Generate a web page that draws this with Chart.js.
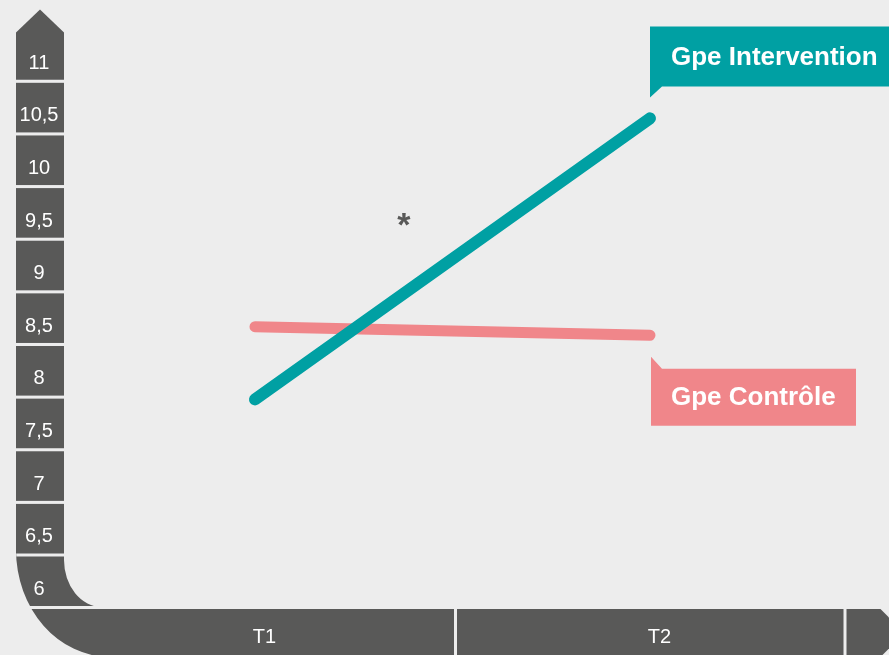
<!DOCTYPE html>
<html>
<head>
<meta charset="utf-8">
<script src="https://cdn.jsdelivr.net/npm/chart.js@4/dist/chart.umd.min.js"></script>
<style>
  html, body { margin: 0; padding: 0; background: #ededed; }
  #wrap { width: 889px; height: 655px; }
</style>
</head>
<body>
<div id="wrap"><canvas id="c" width="889" height="655"></canvas></div>
<script>
// ---- data ----
const categories = ['T1', 'T2'];
const seriesNames = ['Gpe Intervention', 'Gpe Contrôle'];
const intervention = [7.8, 10.47];
const controle = [8.49, 8.41];
const yTicks = [6, 6.5, 7, 7.5, 8, 8.5, 9, 9.5, 10, 10.5, 11];
const yTickLabels = ['6', '6,5', '7', '7,5', '8', '8,5', '9', '9,5', '10', '10,5', '11'];
const significance = '*';

// ---- styles ----
const BG = '#ededed';
const DARK = '#595958';
const TEAL = '#00a0a3';
const PINK = '#f0868a';
const FONT = '"Liberation Sans", Arial, sans-serif';

const axisPlugin = {
  id: 'axisDeco',
  beforeDraw(chart) {
    const ctx = chart.ctx;
    ctx.save();
    ctx.fillStyle = BG;
    ctx.fillRect(0, 0, chart.width, chart.height);
    ctx.restore();
  },
  beforeDatasetsDraw(chart) {
    const ctx = chart.ctx;
    const ys = chart.scales.y, xs = chart.scales.x, area = chart.chartArea;
    ctx.save();
    ctx.fillStyle = DARK;
    const L = 16, R = 64;
    // y cells
    yTicks.forEach((v, i) => {
      const cy = ys.getPixelForValue(v);
      if (i === 0) {
        const top = cy - 32.4;
        ctx.beginPath();
        ctx.moveTo(L, top);
        ctx.lineTo(R, top);
        ctx.lineTo(R, 560);
        ctx.ellipse(102, 560, 38, 47, 0, Math.PI, Math.PI / 2, true);
        ctx.lineTo(120, 607);
        ctx.lineTo(120, 657);
        ctx.lineTo(110, 657);
        ctx.ellipse(110, 550, 94, 107, 0, Math.PI / 2, Math.PI, false);
        ctx.closePath();
        ctx.fill();
      } else if (i === yTicks.length - 1) {
        const top = cy - 30, bot = cy + 17.2;
        ctx.beginPath();
        ctx.moveTo(L, bot);
        ctx.lineTo(L, top);
        ctx.lineTo((L + R) / 2, top - 23);
        ctx.lineTo(R, top);
        ctx.lineTo(R, bot);
        ctx.closePath();
        ctx.fill();
      } else {
        ctx.fillRect(L, cy - 32.4, R - L, 49.6);
      }
    });
    // x bar
    const top = 609, bot = 657;
    const p0 = xs.getPixelForValue(0), p1 = xs.getPixelForValue(1);
    const mid = (p0 + p1) / 2 + 3;
    const end = area.right - 4;
    ctx.fillRect(110, top, mid - 1.5 - 110, bot - top);
    ctx.fillRect(mid + 1.5, top, end - mid - 1.5, bot - top);
    const s = end + 3;
    ctx.beginPath();
    ctx.moveTo(s, top);
    ctx.lineTo(s + 34, top);
    ctx.lineTo(s + 58, (top + bot) / 2);
    ctx.lineTo(s + 34, bot);
    ctx.lineTo(s, bot);
    ctx.closePath();
    ctx.fill();
    // gap between "6" cell and x bar
    ctx.fillStyle = BG;
    ctx.fillRect(0, 606, 130, 3);

    // labels
    ctx.fillStyle = '#ffffff';
    ctx.font = '20px ' + FONT;
    ctx.textAlign = 'center';
    ctx.textBaseline = 'middle';
    yTicks.forEach((v, i) => {
      ctx.fillText(yTickLabels[i], 39, ys.getPixelForValue(v) + 0.5);
    });
    categories.forEach((c, i) => {
      ctx.fillText(c, xs.getPixelForValue(i) + 9.5, 637);
    });
    ctx.restore();
  },
  afterDatasetsDraw(chart) {
    const ctx = chart.ctx;
    const ys = chart.scales.y, xs = chart.scales.x;
    const x1 = xs.getPixelForValue(0);
    const x2 = xs.getPixelForValue(1);
    ctx.save();
    ctx.font = 'bold 26px ' + FONT;
    ctx.textAlign = 'left';
    ctx.textBaseline = 'middle';
    // Intervention callout
    const yi = ys.getPixelForValue(intervention[1]);
    let rt = yi - 92, rb = yi - 32;
    ctx.fillStyle = TEAL;
    ctx.beginPath();
    ctx.moveTo(x2, rt);
    ctx.lineTo(900, rt);
    ctx.lineTo(900, rb);
    ctx.lineTo(x2 + 12, rb);
    ctx.lineTo(x2, rb + 11);
    ctx.closePath();
    ctx.fill();
    ctx.fillStyle = '#ffffff';
    ctx.fillText(seriesNames[0], x2 + 21, (rt + rb) / 2 + 1);
    // Controle callout
    const yc = ys.getPixelForValue(controle[1]);
    rt = yc + 33.5; rb = yc + 90.5;
    const cl = x2 + 1, cr = x2 + 206;
    ctx.fillStyle = PINK;
    ctx.beginPath();
    ctx.moveTo(cl, rt - 12);
    ctx.lineTo(cl + 11, rt);
    ctx.lineTo(cr, rt);
    ctx.lineTo(cr, rb);
    ctx.lineTo(cl, rb);
    ctx.closePath();
    ctx.fill();
    ctx.fillStyle = '#ffffff';
    ctx.fillText(seriesNames[1], cl + 20, (rt + rb) / 2 + 1);
    // significance mark
    ctx.fillStyle = DARK;
    ctx.font = 'bold 34px ' + FONT;
    ctx.textAlign = 'center';
    ctx.textBaseline = 'alphabetic';
    ctx.fillText(significance, x1 + (x2 - x1) * 0.377, 236);
    ctx.restore();
  }
};

new Chart(document.getElementById('c'), {
  type: 'line',
  data: {
    labels: categories,
    datasets: [
      { label: seriesNames[0], data: intervention, borderColor: TEAL, borderWidth: 12,
        borderCapStyle: 'round', pointRadius: 0, fill: false, tension: 0 },
      { label: seriesNames[1], data: controle, borderColor: PINK, borderWidth: 11,
        borderCapStyle: 'round', pointRadius: 0, fill: false, tension: 0 }
    ]
  },
  options: {
    responsive: false,
    devicePixelRatio: 1,
    animation: false,
    layout: { padding: { left: 57.5, right: 41.5, top: 31, bottom: 45 } },
    plugins: { legend: { display: false }, tooltip: { enabled: false } },
    scales: {
      x: { type: 'category', offset: true, display: false },
      y: { min: 5.8, max: 11.3, display: false }
    }
  },
  plugins: [axisPlugin]
});
</script>
</body>
</html>
